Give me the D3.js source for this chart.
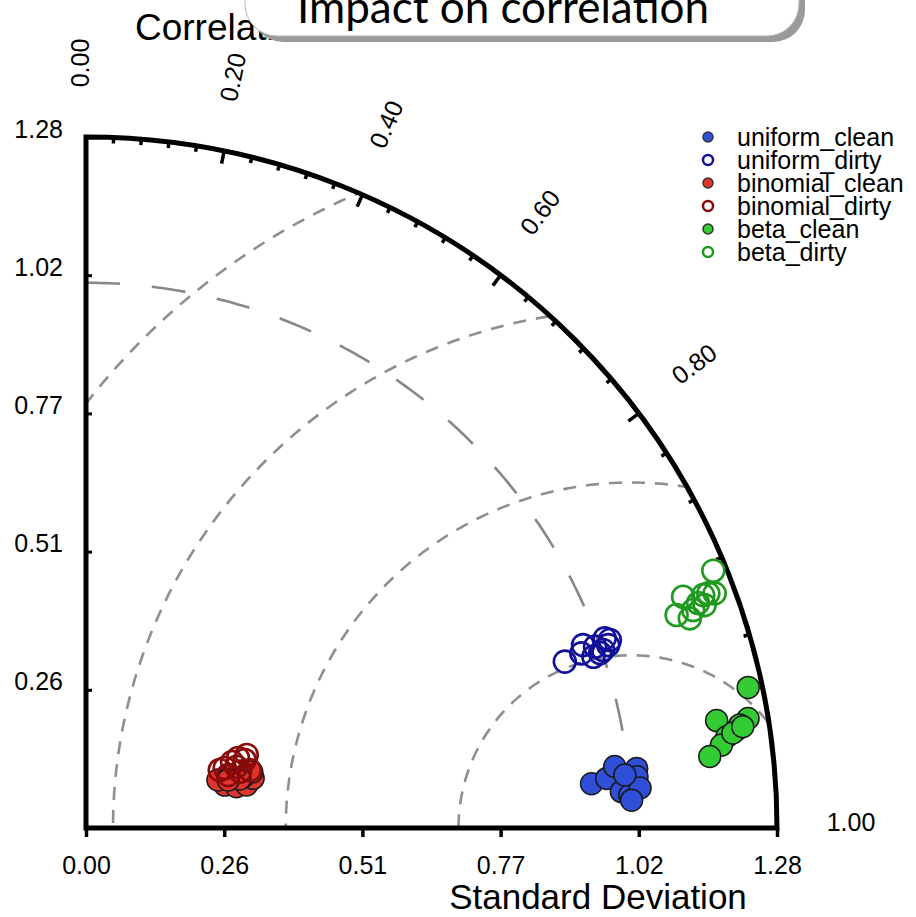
<!DOCTYPE html>
<html>
<head>
<meta charset="utf-8">
<script src="https://cdn.jsdelivr.net/npm/d3@7"></script>
<style>
  body { margin: 0; background: #fff; }
  svg { display: block; }
  text { font-family: "Liberation Sans", Arial, Helvetica, sans-serif; fill: #000; }
</style>
</head>
<body>
<div id="container"></div>
<script>
// axis ticks and labels
const sdTicks = [0, 0.256, 0.512, 0.768, 1.024, 1.28];
const sdTickLabels = ["0.00", "0.26", "0.51", "0.77", "1.02", "1.28"];
const corLabelValues = [0, 0.2, 0.4, 0.6, 0.8, 1.0];
const corLabels = ["0.00", "0.20", "0.40", "0.60", "0.80", "1.00"];
const corMajorTicks = [0.2, 0.4, 0.6, 0.8];
const corMinorTicks = [0.04, 0.08, 0.12, 0.16, 0.24, 0.28, 0.32, 0.36, 0.44, 0.48, 0.52, 0.56,
  0.64, 0.68, 0.72, 0.76, 0.84, 0.88, 0.92, 0.96];
const sdMax = 1.28;

// reference sd arc and centred rms arcs
const refSd = 1.01;
const refArcEndCor = 0.984;
const rmsArcs = [0.32, 0.64, 0.96, 1.28];

// series
const seriesNames = ["uniform_clean", "uniform_dirty", "binomial_clean", "binomial_dirty", "beta_clean", "beta_dirty"];
const seriesFilled = [true, false, true, false, true, false];
const seriesColors = ["#2f4fd8", "#10109a", "#e0352c", "#8a0a0a", "#33cc33", "#1f9a1f"];

const uniformCleanSd = [0.940, 0.969, 0.986, 0.994, 1.009, 1.026, 1.025, 1.029, 1.003, 1.012];
const uniformCleanCor = [0.9962, 0.9955, 0.9933, 0.9977, 0.9982, 0.9942, 0.9957, 0.9974, 0.9952, 0.9987];
const uniformDirtySd = [0.939, 0.973, 0.981, 0.992, 1.001, 1.023, 1.025, 1.013, 1.031, 1.006];
const uniformDirtyCor = [0.9446, 0.9431, 0.9385, 0.9475, 0.9420, 0.9392, 0.9438, 0.9455, 0.9412, 0.9467];
const binomialCleanSd = [0.269, 0.289, 0.308, 0.323, 0.260, 0.284, 0.308, 0.324, 0.299, 0.278];
const binomialCleanCor = [0.9554, 0.9644, 0.9659, 0.9586, 0.9398, 0.9406, 0.9500, 0.9476, 0.9529, 0.9474];
const binomialDirtySd = [0.280, 0.301, 0.320, 0.327, 0.281, 0.304, 0.297, 0.322, 0.270, 0.310];
const binomialDirtyCor = [0.9180, 0.9263, 0.9194, 0.9104, 0.9371, 0.9391, 0.9113, 0.9429, 0.9175, 0.9084];
const betaCleanSd = [1.254, 1.185, 1.243, 1.219, 1.226, 1.199, 1.187, 1.163, 1.211, 1.231];
const betaCleanCor = [0.9782, 0.9858, 0.9866, 0.9888, 0.9878, 0.9900, 0.9916, 0.9935, 0.9894, 0.9883];
const betaDirtySd = [1.256, 1.186, 1.163, 1.184, 1.195, 1.222, 1.232, 1.243, 1.218, 1.208];
const betaDirtyCor = [0.9252, 0.9325, 0.9407, 0.9447, 0.9412, 0.9356, 0.9357, 0.9369, 0.9408, 0.9386];

const seriesSd = [uniformCleanSd, uniformDirtySd, binomialCleanSd, binomialDirtySd, betaCleanSd, betaDirtySd];
const seriesCor = [uniformCleanCor, uniformDirtyCor, binomialCleanCor, binomialDirtyCor, betaCleanCor, betaDirtyCor];

const boxTitle = "Impact on correlation";


function showData() {
  let width = 916, height = 917;
  let ox = 86, oy = 828, R = 691;

  let svg = d3.select("#container").
  append("svg").
  attr("width", width).
  attr("height", height);

  // scales, sd units -> pixels
  let xScale = d3.scaleLinear().domain([0, sdMax]).range([ox, ox + R]);
  let yScale = d3.scaleLinear().domain([0, sdMax]).range([oy, oy - R]);
  let rScale = d3.scaleLinear().domain([0, sdMax]).range([0, R]);

  let polar = (sd, cor) => [xScale(sd * cor), yScale(sd * Math.sqrt(1 - cor * cor))];

  // clip for the quarter circle
  svg.append("clipPath").
  attr("id", "quad").
  append("path").
  attr("d", `M${ox},${oy} L${ox + R},${oy} A${R},${R} 0 0 0 ${ox},${oy - R} Z`);

  let line = d3.line();

  // rms arcs around the reference point
  svg.append("g").
  attr("clip-path", "url(#quad)").
  selectAll("path").
  data(rmsArcs).
  enter().
  append("path").
  attr("d", r => line(d3.range(0, 181).map(a => {
    let t = a * Math.PI / 180;
    return [xScale(refSd + r * Math.cos(t)), yScale(r * Math.sin(t))];
  }))).
  attr("fill", "none").
  attr("stroke", "#8f8f8f").
  attr("stroke-width", 2.6).
  attr("stroke-dasharray", "13,10");

  // reference sd arc (long dashes)
  let endAngle = Math.acos(refArcEndCor) * 180 / Math.PI;
  svg.append("path").
  attr("d", line(d3.range(90, endAngle, -0.5).concat([endAngle]).map(a => {
    let t = a * Math.PI / 180;
    return [xScale(refSd * Math.cos(t)), yScale(refSd * Math.sin(t))];
  }))).
  attr("fill", "none").
  attr("stroke", "#888").
  attr("stroke-width", 2.6).
  attr("stroke-dasharray", "34,32");

  // frame: x axis, outer arc, y axis
  svg.append("path").
  attr("d", `M${ox},${oy} L${ox + R},${oy} A${R},${R} 0 0 0 ${ox},${oy - R} Z`).
  attr("fill", "none").
  attr("stroke", "#000").
  attr("stroke-width", 5).
  attr("stroke-linejoin", "miter");

  // x axis
  let xAxis = d3.axisBottom(xScale).
  tickValues(sdTicks).
  tickFormat((d, i) => sdTickLabels[i]).
  tickSize(9).
  tickSizeOuter(0).
  tickPadding(19);
  let gx = svg.append("g").
  attr("transform", `translate(0,${oy})`).
  call(xAxis);
  gx.select(".domain").remove();
  gx.selectAll("line").attr("stroke", "#000").attr("stroke-width", 3.5);
  gx.selectAll("text").style("font-size", "25px").style("font-family", "Liberation Sans, Arial, sans-serif");

  // y axis, ticks pointing inward
  let yAxis = d3.axisLeft(yScale).
  tickValues(sdTicks.slice(1)).
  tickFormat((d, i) => sdTickLabels[i + 1]).
  tickSize(-6).
  tickSizeOuter(0).
  tickPadding(23);
  let gy = svg.append("g").
  attr("transform", `translate(${ox},0)`).
  call(yAxis);
  gy.select(".domain").remove();
  gy.selectAll("line").attr("stroke", "#000").attr("stroke-width", 3);
  gy.selectAll("text").
  attr("dy", "0em").
  style("font-size", "25px").
  style("font-family", "Liberation Sans, Arial, sans-serif");

  // correlation ticks on the outer arc
  let arcTicks = corMinorTicks.map(c => ({ c: c, len: 6 })).
  concat(corMajorTicks.map(c => ({ c: c, len: 13 })));
  svg.append("g").
  selectAll("line").
  data(arcTicks).
  enter().
  append("line").
  attr("x1", d => xScale(sdMax * d.c)).
  attr("y1", d => yScale(sdMax * Math.sqrt(1 - d.c * d.c))).
  attr("x2", d => ox + (R - d.len) * d.c).
  attr("y2", d => oy - (R - d.len) * Math.sqrt(1 - d.c * d.c)).
  attr("stroke", "#000").
  attr("stroke-width", 3.5);

  // correlation labels, radial
  let labR = rScale(sdMax) + 74;
  svg.append("g").
  selectAll("text").
  data(corLabelValues).
  enter().
  append("text").
  attr("transform", c => {
    let a = Math.acos(c);
    let px = ox + labR * Math.cos(a), py = oy - labR * Math.sin(a);
    return `translate(${px},${py}) rotate(${-a * 180 / Math.PI})`;
  }).
  attr("text-anchor", "middle").
  attr("dy", "0.1em").
  style("font-size", "25px").
  text((c, i) => corLabels[i]);

  // data points
  seriesNames.forEach((name, s) => {
    svg.append("g").
    attr("class", "series").
    selectAll("circle").
    data(seriesSd[s].map((sd, i) => polar(sd, seriesCor[s][i]))).
    enter().
    append("circle").
    attr("cx", d => d[0]).
    attr("cy", d => d[1]).
    attr("r", 11).
    attr("fill", seriesFilled[s] ? seriesColors[s] : "none").
    attr("stroke", seriesFilled[s] ? "#1a1a1a" : seriesColors[s]).
    attr("stroke-width", seriesFilled[s] ? 1.5 : 2.6);
  });

  // legend
  let legend = svg.append("g").
  attr("transform", "translate(708,137)");
  let item = legend.selectAll("g").
  data(seriesNames).
  enter().
  append("g").
  attr("transform", (d, i) => `translate(0,${i * 23})`);
  item.append("circle").
  attr("r", 5).
  attr("fill", (d, i) => seriesFilled[i] ? seriesColors[i] : "none").
  attr("stroke", (d, i) => seriesFilled[i] ? "#333" : seriesColors[i]).
  attr("stroke-width", (d, i) => seriesFilled[i] ? 1.5 : 2.5);
  item.append("text").
  attr("x", 29).
  attr("y", 9).
  style("font-size", "25px").
  text(d => d);

  // axis titles
  svg.append("text").
  attr("x", 598).
  attr("y", 909).
  attr("text-anchor", "middle").
  style("font-size", "35px").
  text("Standard Deviation");

  svg.append("text").
  attr("x", 135).
  attr("y", 40).
  style("font-size", "37px").
  text("Correlation");

  // callout box over the top
  let box = svg.append("g");
  box.append("rect").
  attr("x", 251).
  attr("y", -60).
  attr("width", 554).
  attr("height", 102).
  attr("rx", 32).
  attr("fill", "#9a9a9a");
  box.append("rect").
  attr("x", 245).
  attr("y", -60).
  attr("width", 554).
  attr("height", 96).
  attr("rx", 32).
  attr("fill", "#fff").
  attr("stroke", "#b5b5b5").
  attr("stroke-width", 1);
  box.append("text").
  attr("x", 503).
  attr("y", 23).
  attr("text-anchor", "middle").
  style("font-family", "Lato, 'Open Sans', sans-serif").
  style("font-size", "44px").
  text(boxTitle);
}

showData();
</script>
</body>
</html>
